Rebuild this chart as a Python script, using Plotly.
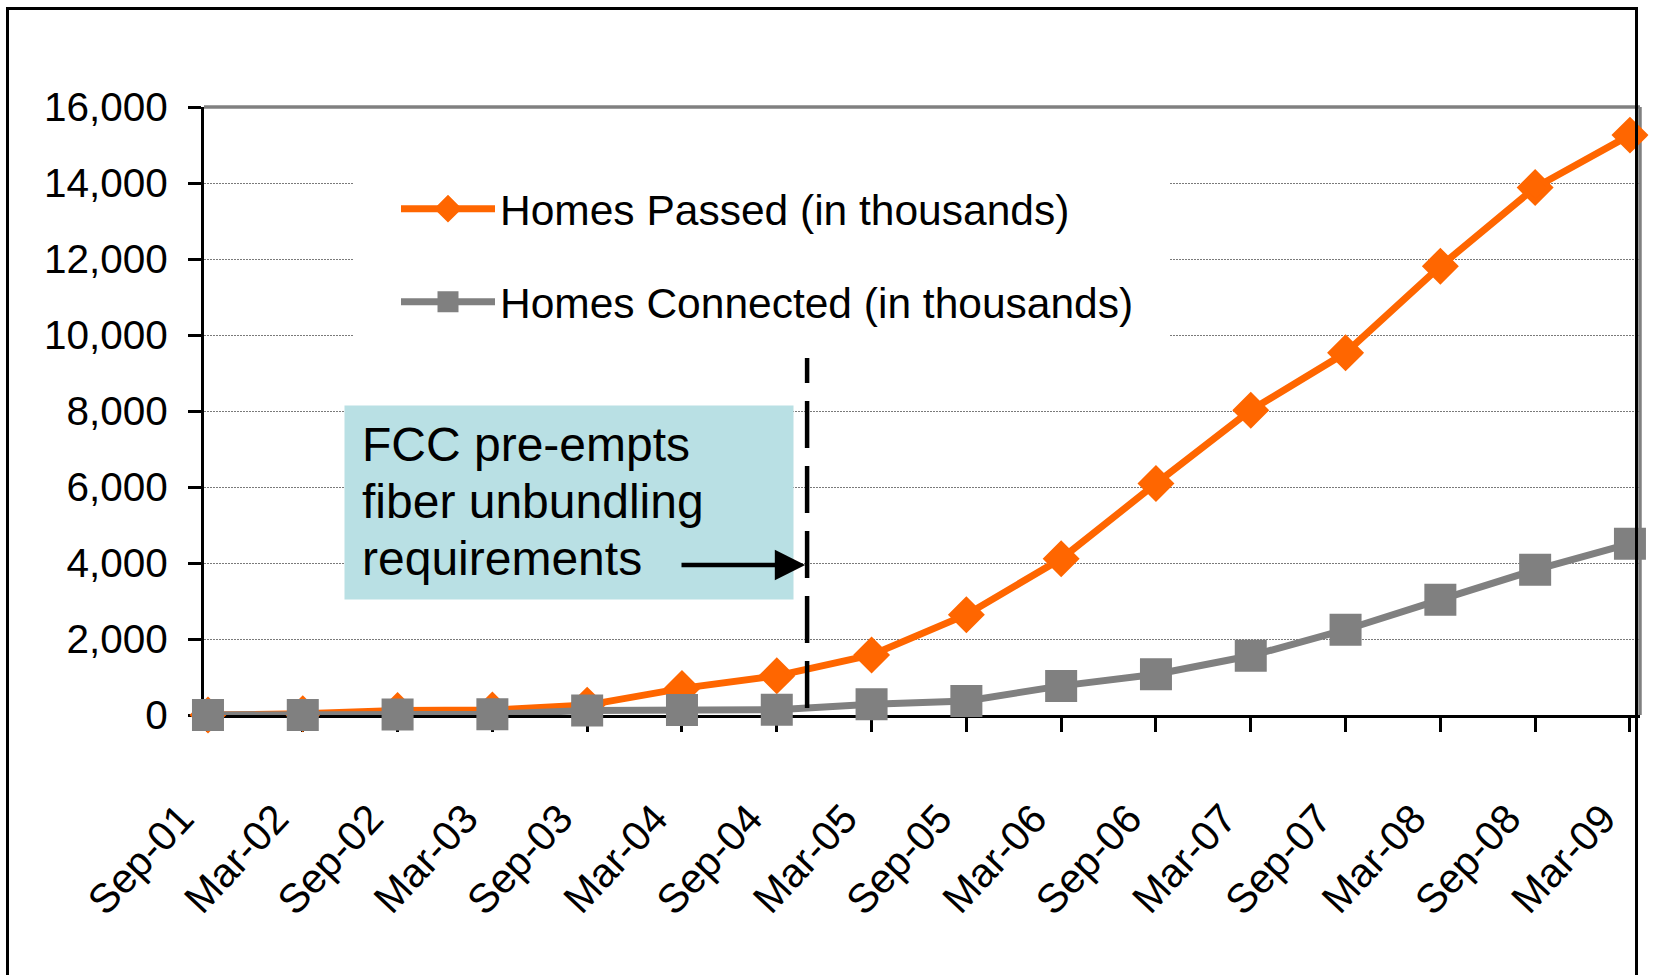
import plotly.graph_objects as go

# ---------------- data ----------------
periods = ["Sep-01", "Mar-02", "Sep-02", "Mar-03", "Sep-03", "Mar-04", "Sep-04", "Mar-05",
           "Sep-05", "Mar-06", "Sep-06", "Mar-07", "Sep-07", "Mar-08", "Sep-08", "Mar-09"]
homes_passed = [0, 30, 120, 130, 260, 700, 1030, 1580, 2640, 4110, 6090, 8020, 9530, 11810, 13880, 15260]
homes_connected = [0, 0, 10, 20, 120, 130, 140, 282, 370, 766, 1074, 1558, 2244, 3036, 3820, 4507]
y_ticks = [0, 2000, 4000, 6000, 8000, 10000, 12000, 14000, 16000]
event_position = 6.32          # Oct-2004 (between Sep-04 and Mar-05)
event_lines = ["FCC pre-empts", "fiber unbundling", "requirements"]

# ---------------- geometry helpers ----------------
W, H = 1653, 975
ML, MR, MT, MB = 204, 13, 107, 260
PW, PH = W - ML - MR, H - MT - MB
XMIN, XMAX = -0.042, 15.106
YMAX = 16000

def xp(px):
    return (px - ML) / PW

def yp(py):
    return (H - MB - py) / PH

def xd(px):
    return XMIN + (px - ML) / PW * (XMAX - XMIN)

def yd(py):
    return (H - MB - py) / PH * YMAX

FONT = "Liberation Sans, Arial, sans-serif"
ORANGE = "#FF6600"
GRAY = "#808080"

fig = go.Figure()
fig.add_trace(go.Scatter(
    x=periods, y=homes_passed, name="Homes Passed (in thousands)",
    mode="lines+markers", cliponaxis=False, legend="legend",
    line=dict(color=ORANGE, width=7),
    marker=dict(symbol="diamond", size=23, color=ORANGE, line=dict(color=ORANGE, width=5)),
))
fig.add_trace(go.Scatter(
    x=periods, y=homes_connected, name="Homes Connected (in thousands)",
    mode="lines+markers", cliponaxis=False, legend="legend2",
    line=dict(color=GRAY, width=7),
    marker=dict(symbol="square", size=27, color=GRAY, line=dict(color=GRAY, width=5)),
))

shapes = [
    # white legend background (hides grid lines)
    dict(type="rect", xref="x", yref="y", layer="between",
         x0=xd(353), x1=xd(1169), y0=yd(346), y1=yd(165),
         fillcolor="white", line=dict(width=0)),
    # top / right gray plot border
    dict(type="line", xref="paper", yref="paper", x0=0, x1=1, y0=1, y1=1,
         line=dict(color=GRAY, width=3.5), layer="below"),
    dict(type="line", xref="paper", yref="paper", x0=1, x1=1, y0=0, y1=1,
         line=dict(color=GRAY, width=3.5), layer="below"),
    # vertical dashed event line
    dict(type="line", xref="x", yref="y", x0=event_position, x1=event_position,
         y0=yd(708), y1=yd(358),
         line=dict(color="black", width=4.5, dash="47px,18px")),
    # outer black frame
    dict(type="rect", xref="paper", yref="paper",
         x0=xp(7.5), x1=xp(1636.5), y0=yp(1000), y1=yp(8.5),
         line=dict(color="black", width=3), fillcolor="rgba(0,0,0,0)"),
]

annotations = [
    # light-blue call-out box
    dict(xref="paper", yref="paper", x=xp(343.7), y=yp(404.8),
         xanchor="left", yanchor="top", text="", showarrow=False,
         width=448, height=193, borderpad=0, bgcolor="#B9E0E4"),
]
for line_text, cy in zip(event_lines, [444, 501, 558]):
    annotations.append(dict(
        xref="paper", yref="paper", x=xp(360), y=yp(cy),
        xanchor="left", yanchor="middle", text=line_text, showarrow=False,
        font=dict(family=FONT, size=48, color="black")))
annotations.append(dict(
    xref="x", yref="y", axref="x", ayref="y",
    x=event_position - 0.02, y=yd(565), ax=xd(680), ay=yd(565),
    text="", showarrow=True, arrowhead=2, arrowsize=1.35, arrowwidth=4.5,
    arrowcolor="black", standoff=0))

fig.update_layout(
    width=W, height=H,
    margin=dict(l=ML, r=MR, t=MT, b=MB, autoexpand=False),
    paper_bgcolor="white", plot_bgcolor="white",
    font=dict(family=FONT, color="black"),
    showlegend=True,
    legend=dict(x=xp(396), y=yp(209), xanchor="left", yanchor="middle",
                bgcolor="rgba(0,0,0,0)", borderwidth=0, itemwidth=94,
                font=dict(family=FONT, size=42.5, color="black")),
    legend2=dict(x=xp(396), y=yp(302), xanchor="left", yanchor="middle",
                 bgcolor="rgba(0,0,0,0)", borderwidth=0, itemwidth=94,
                 font=dict(family=FONT, size=42.5, color="black")),
    shapes=shapes,
    annotations=annotations,
    xaxis=dict(
        type="category", range=[XMIN, XMAX], showgrid=False,
        showline=True, linecolor="black", linewidth=3,
        ticks="outside", ticklen=14, tickwidth=3, tickcolor="black",
        tickangle=-47, tickfont=dict(family=FONT, size=41, color="black"),
        ticklabelstandoff=46, ticklabelshift=-27,
        layer="below traces", zeroline=False,
    ),
    yaxis=dict(
        range=[0, YMAX], tickvals=y_ticks, tickformat=",",
        showgrid=True, gridcolor="#7a7a7a", gridwidth=1, griddash="2px,1px",
        showline=True, linecolor="black", linewidth=3,
        ticks="outside", ticklen=13, tickwidth=3, tickcolor="black",
        tickfont=dict(family=FONT, size=40.5, color="black"),
        ticklabelstandoff=12, layer="below traces", zeroline=False,
    ),
)

fig.write_html(
    "out.html",
    config={"displayModeBar": False},
    post_script="document.body.style.margin='0';document.body.style.padding='0';"
                "document.documentElement.style.overflow='hidden';",
)
